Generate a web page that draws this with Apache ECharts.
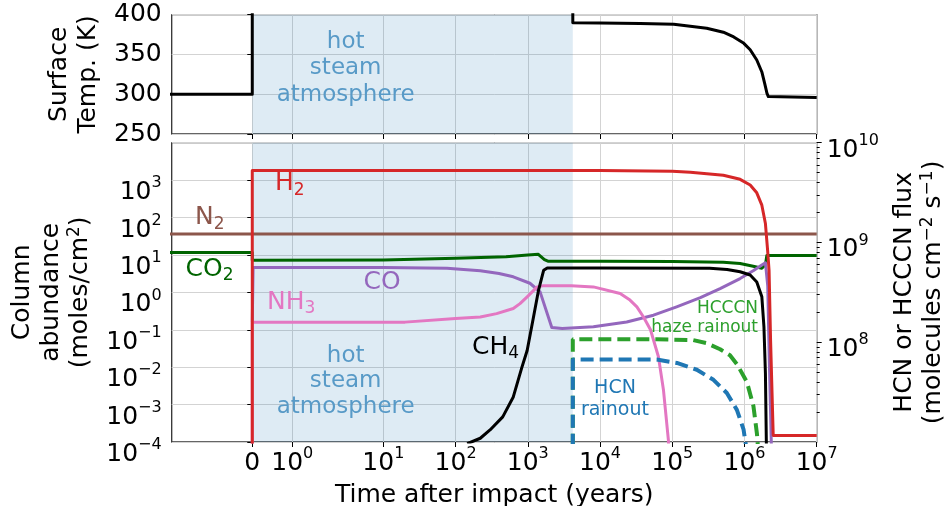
<!DOCTYPE html>
<html><head><meta charset="utf-8">
<script src="https://cdn.jsdelivr.net/npm/echarts@6/dist/echarts.min.js"></script>
<style>html,body{margin:0;padding:0;background:#fff}#c{width:945px;height:506px}</style>
</head><body><div id="c"></div>
<script>
// ================= DATA =================
const xTickYears  = [0, 1, 10, 100, 1e3, 1e4, 1e5, 1e6, 1e7];
const xTickLabels = ['0', '10^0', '10^1', '10^2', '10^3', '10^4', '10^5', '10^6', '10^7'];
const xMinYears = -2.79, xMaxYears = 1e7;
const shadeYears = [0, 4200];

// Surface temperature (K)
const tempT = [-3, 0, 0, 4200, 4200, 1e4, 3.6e4, 1.05e5, 3.0e5, 5.1e5, 7.1e5, 9.8e5, 1.2e6, 1.48e6, 1.74e6, 1.9e6, 2.05e6, 2.14e6, 2.25e6, 1e7];
const tempV = [300, 300, 520, 520, 390, 389.5, 389, 388, 383, 378, 372, 364, 356, 343, 328, 314, 301, 297, 296, 296];

// Column abundances (moles/cm2)
const h2T = [0, 0, 1e4, 1e5, 1.78e5, 5.1e5, 8.7e5, 1.2e6, 1.48e6, 1.74e6, 1.95e6, 2.09e6, 2.19e6, 2.3e6, 2.5e6, 1e7];
const h2V = [1e-6, 1800, 1800, 1720, 1620, 1350, 1050, 740, 457, 214, 69, 13.5, 3.9, 0.05, 1.5e-4, 1.5e-4];

const n2T = [-3, 1e7];
const n2V = [36, 36];

const co2T = [-3, 0, 0, 10, 100, 500, 1000, 1400, 1700, 1900, 1e4, 1e5, 5.1e5, 8.7e5, 1.32e6, 1.74e6, 1.95e6, 2.04e6, 1e7];
const co2V = [11.7, 11.7, 7.2, 7.3, 8.1, 9.0, 9.9, 10.4, 7.5, 6.8, 6.8, 6.7, 6.4, 5.9, 5.0, 4.4, 5.5, 9.6, 9.6];

const coT = [0, 0.02, 10, 76, 220, 400, 630, 1070, 1480, 2150, 3000, 8.1e3, 2.34e4, 5.5e4, 1.15e5, 2.45e5, 4.6e5, 8.7e5, 1.32e6, 1.74e6, 1.95e6, 2.1e6, 2.2e6, 2.35e6, 2.5e6];
const coV = [0.16, 4.6, 4.6, 4.4, 3.8, 3.2, 2.6, 1.75, 1.03, 0.115, 0.108, 0.12, 0.162, 0.245, 0.41, 0.72, 1.26, 2.34, 3.76, 5.4, 6.2, 1.5, 0.02, 1e-4, 1e-6];

const nh3T = [0, 0, 20, 100, 220, 370, 630, 780, 980, 1150, 1350, 1600, 4000, 8.1e3, 1.9e4, 2.6e4, 3.24e4, 4.0e4, 5.0e4, 6.44e4, 7.55e4, 8.85e4, 9.5e4];
const nh3V = [1e-6, 0.16, 0.16, 0.2, 0.22, 0.27, 0.37, 0.5, 0.76, 1.03, 1.40, 1.49, 1.49, 1.40, 0.93, 0.62, 0.41, 0.22, 0.1, 0.019, 0.0025, 1.1e-4, 1e-6];

const ch4T = [145, 220, 300, 450, 630, 830, 980, 1200, 1410, 1660, 1860, 1e4, 3.3e5, 5.75e5, 8.7e5, 1.2e6, 1.48e6, 1.74e6, 1.86e6, 1.95e6, 2.04e6];
const ch4V = [9e-5, 1.26e-4, 2.1e-4, 4.7e-4, 1.6e-3, 0.01, 0.028, 0.22, 1.15, 3.9, 4.5, 4.5, 4.4, 4.1, 3.55, 2.9, 1.9, 0.76, 0.12, 0.007, 1e-5];

// Rainout fluxes (molecules cm-2 s-1)
const hcccnT = [4200, 4200, 6.1e4, 1.95e5, 3.0e5, 4.6e5, 6.3e5, 7.9e5, 1.08e6, 1.33e6, 1.49e6, 1.6e6];
const hcccnV = [1e6, 1.07e8, 1.07e8, 1.05e8, 9.8e7, 8.5e7, 7.4e7, 6.0e7, 4.0e7, 2.3e7, 1.2e7, 6e6];
const hcnT = [4200, 4200, 6.1e4, 1.16e5, 2.19e5, 3.72e5, 5.7e5, 7.85e5, 9.7e5, 1.08e6];
const hcnV = [1e6, 6.7e7, 6.7e7, 6.2e7, 5.3e7, 4.2e7, 3.1e7, 2.1e7, 1.34e7, 8e6];

// ================= SCALE (symlog-like time axis) =================
function T(t) {
  if (t < 0) return -T(-t);
  if (t <= 1) return 40 * t;
  if (t <= 10) return 40 + 91 * Math.log10(t);
  return 131 + 72.2 * (Math.log10(t) - 1);
}
const pts = (ts, vs) => ts.map((t, i) => [T(t), vs[i]]);

const FONT = 'DejaVu Sans';
const xTickPos = xTickYears.map(T);
function richLabel(s) {
  const m = s.match(/^(.*?)\^(.*)$/);
  return m ? '{b|' + m[1] + '}{s|' + m[2] + '}' : '{b|' + s + '}';
}
const expStr = v => { const e = Math.round(Math.log10(v)); return '10^' + (e < 0 ? '\u2212' + (-e) : e); };

const yRich = {
  b: {fontSize: 25, lineHeight: 20, padding: [10, 0, 0, 0], verticalAlign: 'top', fontFamily: FONT, color: '#000'},
  s: {fontSize: 16, lineHeight: 16, padding: [5, 0, 0, 0], verticalAlign: 'top', fontFamily: FONT, color: '#000'}
};
const yRichR = {
  b: {fontSize: 25, lineHeight: 20, padding: [5, 0, 5, 0], verticalAlign: 'top', fontFamily: FONT, color: '#000'},
  s: {fontSize: 16, lineHeight: 16, padding: [0, 0, 0, 0], verticalAlign: 'top', fontFamily: FONT, color: '#000'}
};
const xRich = {
  b: {fontSize: 25, lineHeight: 20, padding: [6, 0, 0, 0], verticalAlign: 'top', fontFamily: FONT, color: '#000'},
  s: {fontSize: 16, lineHeight: 16, padding: [1, 0, 0, 0], verticalAlign: 'top', fontFamily: FONT, color: '#000'}
};
const nameRich = {s: {fontSize: 17, lineHeight: 14, verticalAlign: 'top', fontFamily: FONT, color: '#000'}};
const nameStyle = {fontSize: 25, lineHeight: 29, fontFamily: FONT, color: '#000', rich: nameRich};
const gridLine = {show: true, lineStyle: {color: '#d3d3d3', width: 1}};
const tick = {show: true, length: 5, lineStyle: {color: '#000', width: 1}};

function xAxis(gi) {
  return {
    type: 'value', gridIndex: gi, min: T(xMinYears), max: T(xMaxYears),
    axisLine: {show: false},
    axisTick: Object.assign({}, tick, {customValues: xTickPos}),
    axisLabel: {
      show: gi === 1, customValues: xTickPos, margin: 3, rich: xRich,
      formatter: v => {
        let k = 0, d = Infinity;
        xTickPos.forEach((p, i) => { if (Math.abs(p - v) < d) { d = Math.abs(p - v); k = i; } });
        return richLabel(xTickLabels[k]);
      }
    },
    splitLine: gridLine,
    name: gi === 1 ? 'Time after impact (years)' : '',
    nameLocation: 'middle', nameGap: 35, nameTextStyle: nameStyle
  };
}

const minorTicks = [];
for (let n = 7; n < 10; n++) for (let k = 2; k <= 9; k++) minorTicks.push(Math.log10(k * Math.pow(10, n)));

function line(name, ts, vs, color, opts) {
  return Object.assign({
    name, type: 'line', data: pts(ts, vs), showSymbol: false, symbol: 'none',
    xAxisIndex: 1, yAxisIndex: 1, z: 3, animation: false,
    lineStyle: {color, width: 3, join: 'round'}, itemStyle: {color}, clip: true
  }, opts || {});
}

const shade = {
  silent: true, itemStyle: {color: 'rgba(31,119,180,0.15)'},
  data: [[{xAxis: T(shadeYears[0])}, {xAxis: T(shadeYears[1])}]]
};

const spRich = {
  b: {fontSize: 25, lineHeight: 30, fontFamily: FONT},
  u: {fontSize: 17, lineHeight: 17, verticalAlign: 'bottom', fontFamily: FONT}
};
function label(x, y, text, color, align) {
  return {type: 'text', x, y, z: 100, style: {text, rich: spRich, fill: color, align: align || 'left', verticalAlign: 'middle', font: '25px ' + FONT}};
}
function plain(x, y, text, color, size, lh, align) {
  return {type: 'text', x, y, z: 100, style: {text, fill: color, align: align || 'center', verticalAlign: 'middle',
    fontSize: size, lineHeight: lh, fontFamily: FONT, font: size + 'px ' + FONT}};
}

const gridBase = {show: true, borderColor: '#333', borderWidth: 1.3, backgroundColor: 'transparent', containLabel: false, outerBoundsMode: 'none'};
const option = {
  backgroundColor: '#fff',
  animation: false,
  grid: [
    Object.assign({left: 171.7, top: 14.7, width: 645, height: 119.3}, gridBase),
    Object.assign({left: 171.7, top: 142.7, width: 645, height: 299.3}, gridBase)
  ],
  xAxis: [xAxis(0), xAxis(1)],
  yAxis: [
    {type: 'value', gridIndex: 0, min: 250, max: 400, interval: 50, axisLine: {show: false}, axisTick: tick,
     axisLabel: {fontSize: 25, fontFamily: FONT, color: '#000', margin: 10}, splitLine: gridLine,
     name: 'Surface\nTemp. (K)', nameLocation: 'middle', nameRotate: 90, nameGap: 62, nameTextStyle: nameStyle},
    {type: 'log', logBase: 10, gridIndex: 1, min: 1e-4, max: 1e4, position: 'left', axisLine: {show: false}, axisTick: tick,
     axisLabel: {margin: 10, rich: yRich, showMaxLabel: false, formatter: v => richLabel(expStr(v))}, splitLine: gridLine,
     name: 'Column\nabundance\n(moles/cm{s|2})', nameLocation: 'middle', nameRotate: 90, nameGap: 75, nameTextStyle: nameStyle},
    {type: 'log', logBase: 10, gridIndex: 1, min: 1e7, max: 1e10, position: 'right', axisLine: {show: false}, axisTick: tick,
     axisLabel: {margin: 10, rich: yRichR, showMinLabel: false, formatter: v => richLabel(expStr(v))}, splitLine: {show: false},
     name: 'HCN or HCCCN flux\n(molecules cm{s|\u22122} s{s|\u22121})', nameLocation: 'middle', nameRotate: 90, nameGap: 70, nameTextStyle: nameStyle},
    {type: 'value', gridIndex: 1, min: 7, max: 10, position: 'right', axisLine: {show: false},
     axisTick: {show: true, length: 3, lineStyle: {color: '#000', width: 1}, customValues: minorTicks},
     axisLabel: {show: false}, splitLine: {show: false}}
  ],
  series: [
    line('Temperature', tempT, tempV, '#000', {xAxisIndex: 0, yAxisIndex: 0, markArea: shade}),
    line('N2', n2T, n2V, '#8c564b', {markArea: shade}),
    line('CO2', co2T, co2V, '#006400'),
    line('CO', coT, coV, '#9467bd'),
    line('NH3', nh3T, nh3V, '#e377c2'),
    line('CH4', ch4T, ch4V, '#000'),
    line('H2', h2T, h2V, '#d62728'),
    line('HCCCN', hcccnT, hcccnV, '#2ca02c', {yAxisIndex: 2, lineStyle: {color: '#2ca02c', width: 4, type: [13, 6]}}),
    line('HCN', hcnT, hcnV, '#1f77b4', {yAxisIndex: 2, lineStyle: {color: '#1f77b4', width: 4, type: [13, 6]}})
  ],
  graphic: [
    plain(345.7, 68.3, 'hot\nsteam\natmosphere', '#589ac7', 23, 26.7),
    plain(345.7, 381.5, 'hot\nsteam\natmosphere', '#589ac7', 23, 25.5),
    label(275, 183.8, '{b|H}{u|2}', '#d62728'),
    label(195, 217.8, '{b|N}{u|2}', '#8c564b'),
    label(185.5, 269.2, '{b|CO}{u|2}', '#006400'),
    label(267, 302, '{b|NH}{u|3}', '#e377c2'),
    label(363.5, 282, '{b|CO}', '#9467bd'),
    label(472, 347, '{b|CH}{u|4}', '#000'),
    plain(758, 318, 'HCCCN\nhaze rainout', '#2ca02c', 17, 19, 'right'),
    plain(615, 399, 'HCN\nrainout', '#1f77b4', 19, 22)
  ]
};
const chart = echarts.init(document.getElementById('c'), null, {renderer: 'canvas'});
chart.setOption(option);
</script></body></html>
